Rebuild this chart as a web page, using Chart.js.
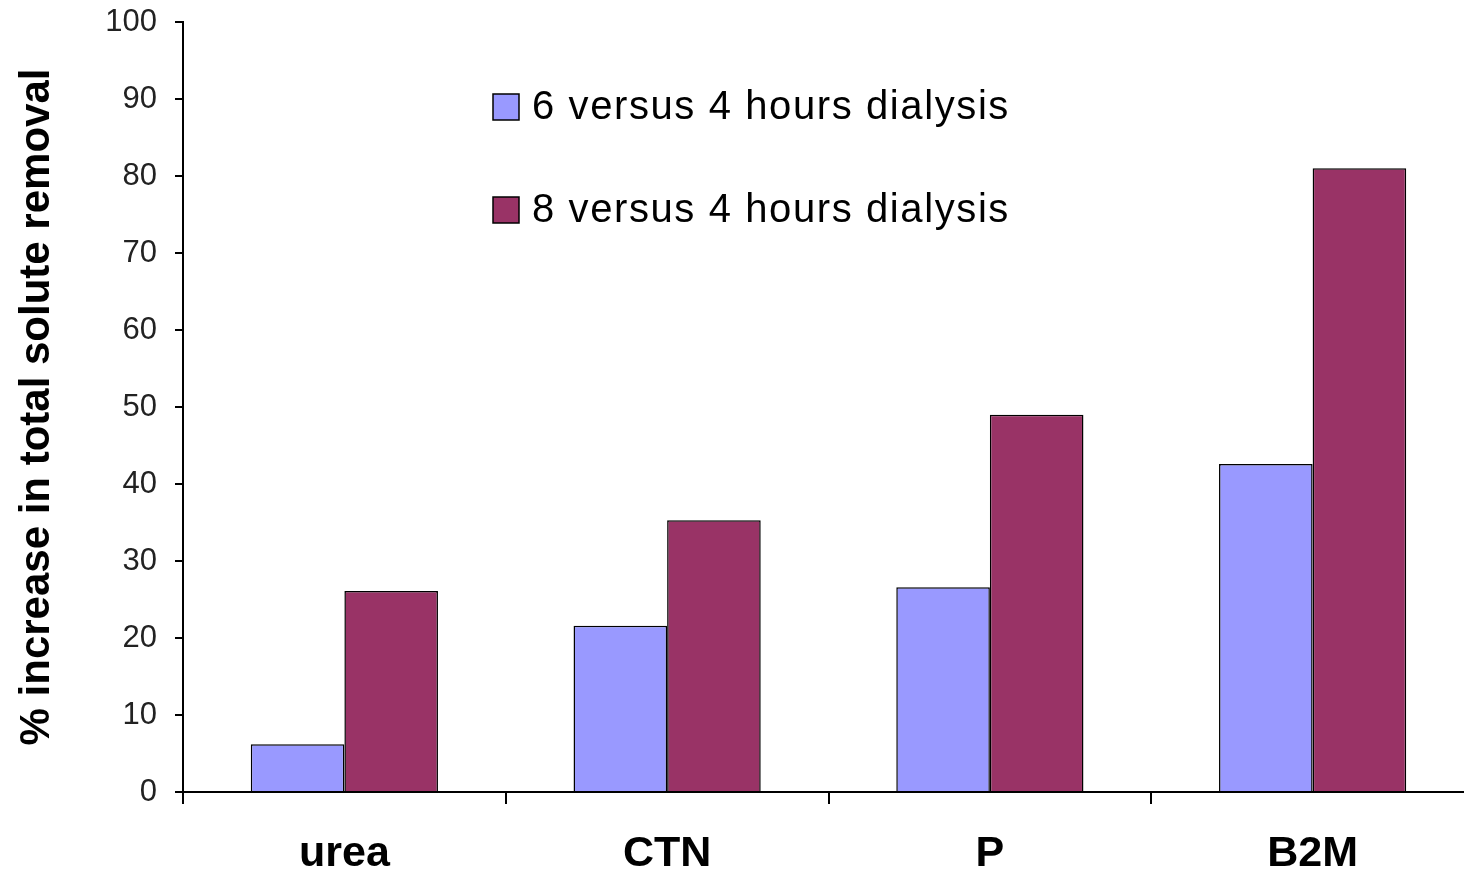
<!DOCTYPE html>
<html>
<head>
<meta charset="utf-8">
<script src="https://cdn.jsdelivr.net/npm/chart.js@4/dist/chart.umd.min.js"></script>
<style>
	body { margin: 0; background: #fff; overflow: hidden; }
	#wrap { width: 1474px; height: 869px; }
</style>
</head>
<body>
<div id="wrap"><canvas id="myChart" width="1474" height="869"></canvas></div>
<script>
	var categories = ['urea', 'CTN', 'P', 'B2M'];
	var six_vs_four = [6.2, 21.6, 26.6, 42.6];
	var eight_vs_four = [26.1, 35.3, 49.0, 81.0];
	var series_labels = ['6 versus 4 hours dialysis', '8 versus 4 hours dialysis'];
	var series_colors = ['#9999FF', '#993366'];

	// legend drawn inside the plot area, like the original
	var insideLegend = {
		id: 'insideLegend',
		afterDraw: function(chart) {
			var ctx = chart.ctx;
			var area = chart.chartArea;
			var x = area.left + 310;
			var rows = [area.top + 85, area.top + 188];
			ctx.save();
			ctx.font = '40px "Liberation Sans", Arial, sans-serif';
			ctx.letterSpacing = '1.6px';
			ctx.textBaseline = 'middle';
			chart.data.datasets.forEach(function(ds, i) {
				var y = rows[i];
				ctx.fillStyle = ds.backgroundColor;
				ctx.fillRect(x, y - 13, 26, 26);
				ctx.lineWidth = 1.5;
				ctx.strokeStyle = '#000';
				ctx.strokeRect(x, y - 13, 26, 26);
				ctx.fillStyle = '#000';
				ctx.fillText(ds.label, x + 39, y + 1);
			});
			ctx.restore();
		}
	};

	var ctxBar = document.getElementById('myChart').getContext('2d');
	var myBar = new Chart(ctxBar, {
		type: 'bar',
		data: {
			labels: categories,
			datasets: [{
				label: series_labels[0],
				data: six_vs_four,
				backgroundColor: series_colors[0],
				borderColor: '#000',
				borderWidth: 1.5
			}, {
				label: series_labels[1],
				data: eight_vs_four,
				backgroundColor: series_colors[1],
				borderColor: '#000',
				borderWidth: 1.5
			}]
		},
		options: {
			responsive: false,
			animation: false,
			layout: { padding: { top: 22, right: 0, left: 0, bottom: 0 } },
			datasets: { bar: { categoryPercentage: 0.58, barPercentage: 1 } },
			plugins: {
				legend: { display: false },
				tooltip: { enabled: false }
			},
			scales: {
				x: {
					grid: { display: true, drawOnChartArea: false, drawTicks: true, tickLength: 12, color: '#000', lineWidth: 2 },
					border: { display: true, color: '#000', width: 2 },
					ticks: {
						color: '#000',
						padding: 24,
						font: { family: '"Liberation Sans", Arial, sans-serif', size: 43, weight: 'bold' }
					},
					afterFit: function(scale) { scale.height = 77; }
				},
				y: {
					min: 0,
					max: 100,
					ticks: {
						stepSize: 10,
						color: '#222',
						padding: 18,
						font: { family: '"Liberation Sans", Arial, sans-serif', size: 31 }
					},
					grid: { display: true, drawOnChartArea: false, drawTicks: true, tickLength: 8, color: '#000', lineWidth: 2 },
					border: { display: true, color: '#000', width: 2 },
					title: {
						display: true,
						text: '% increase in total solute removal',
						color: '#000',
						padding: { top: 12, bottom: 0 },
						font: { family: '"Liberation Sans", Arial, sans-serif', size: 42, weight: 'bold' }
					},
					afterFit: function(scale) {
						scale.width = 183;
						scale.paddingTop = 0;
						scale.paddingBottom = 0;
					}
				}
			}
		},
		plugins: [insideLegend]
	});
</script>
</body>
</html>
